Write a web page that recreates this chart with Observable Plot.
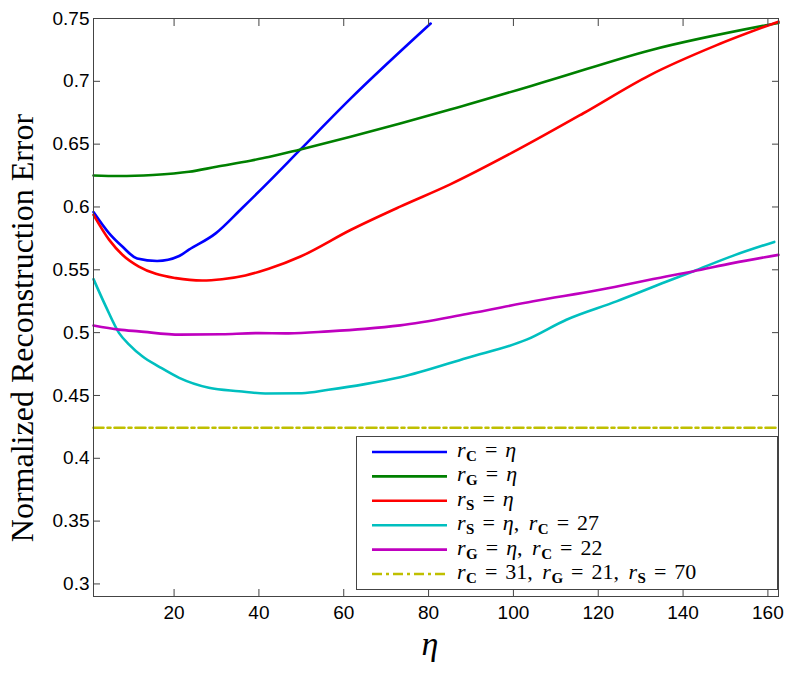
<!DOCTYPE html>
<html><head><meta charset="utf-8">
<script src="https://cdn.jsdelivr.net/npm/d3@7"></script>
<script src="https://cdn.jsdelivr.net/npm/@observablehq/plot@0.6"></script>
<style>body{margin:0;background:#fff}#chart{width:795px;height:673px}</style>
</head><body><div id="chart"></div>
<script>
// ---- data ----
const blueEta = [1,4.7,7.8,11.3,16,21.2,23.5,29.8,36,42.3,49.8,61.6,80.5];
const blueVal = [0.596,0.579,0.5685,0.559,0.557,0.561,0.566,0.579,0.599,0.620,0.6458,0.6862,0.746];

const greenEta = [1,7,15,23.5,30,38,42.3,49.8,61.6,73.3,85.1,108.6,132.1,162.5];
const greenVal = [0.625,0.6246,0.6255,0.628,0.632,0.6368,0.6397,0.6458,0.6558,0.6664,0.6775,0.7008,0.7246,0.7465];

const redEta = [1,4.7,7.8,11.7,15.7,20.4,26.6,31.3,36.8,42.3,49.8,61.6,73.3,85.1,100.8,116.4,132.1,147.8,162.5];
const redVal = [0.5937,0.5738,0.562,0.5526,0.5468,0.5434,0.5415,0.5425,0.5455,0.5508,0.5606,0.5817,0.6003,0.618,0.6452,0.6744,0.7048,0.7286,0.7475];

const cyanEta = [1,3.9,7,9.4,12.5,16.5,21.2,28.2,35.3,41.5,50.1,56.4,65,73.3,89,103.1,112.5,124.3,136,142.3,151.7,161.5];
const cyanVal = [0.5426,0.5209,0.4998,0.4905,0.4812,0.4728,0.464,0.4561,0.4534,0.4516,0.4518,0.4545,0.459,0.4645,0.4799,0.4944,0.5103,0.5249,0.5405,0.5487,0.5611,0.5722];

const magentaEta = [1,7,11.7,21.5,31.3,39.2,47,56.4,65,73.3,89,104.7,120.4,136,142.3,151.7,162.5];
const magentaVal = [0.5056,0.5024,0.501,0.4984,0.4987,0.4996,0.4994,0.501,0.503,0.5058,0.5148,0.5249,0.5341,0.5447,0.5487,0.5553,0.5619];

const yellowEta = [1,162.5];
const yellowVal = [0.4243,0.4243];

const xTicks = [20,40,60,80,100,120,140,160];
const xTickLabels = ["20","40","60","80","100","120","140","160"];
const yTicks = [0.3,0.35,0.4,0.45,0.5,0.55,0.6,0.65,0.7,0.75];
const yTickLabels = ["0.3","0.35","0.4","0.45","0.5","0.55","0.6","0.65","0.7","0.75"];

const xTitle = "η";
const yTitle = "Normalized Reconstruction Error";

// legend labels as parts: [text, style]  (i = italic, s = bold subscript, n = normal, e = equals, c = comma)
const legendLabels = [
  [["r","i"],["C","s"],["=","e"],["η","i"]],
  [["r","i"],["G","s"],["=","e"],["η","i"]],
  [["r","i"],["S","s"],["=","e"],["η","i"]],
  [["r","i"],["S","s"],["=","e"],["η","i"],[", ","c"],["r","i"],["C","s"],["=","e"],["27","n"]],
  [["r","i"],["G","s"],["=","e"],["η","i"],[", ","c"],["r","i"],["C","s"],["=","e"],["22","n"]],
  [["r","i"],["C","s"],["=","e"],["31","n"],[", ","c"],["r","i"],["G","s"],["=","e"],["21","n"],[", ","c"],["r","i"],["S","s"],["=","e"],["70","n"]]
];

const series = [
  {eta: blueEta, val: blueVal, color: "#0000ff", dash: null},
  {eta: greenEta, val: greenVal, color: "#008000", dash: null},
  {eta: redEta, val: redVal, color: "#ff0000", dash: null},
  {eta: cyanEta, val: cyanVal, color: "#00bfbf", dash: null},
  {eta: magentaEta, val: magentaVal, color: "#bf00bf", dash: null},
  {eta: yellowEta, val: yellowVal, color: "#bfbf00", dash: "10,4,3,4"}
];

const toRows = s => s.eta.map((e, i) => ({eta: e, val: s.val[i]}));
const axisColor = "#444";

const plot = Plot.plot({
  width: 795, height: 673,
  marginLeft: 93, marginRight: 17, marginTop: 18, marginBottom: 77,
  x: {domain: [1, 162.5]},
  y: {domain: [0.29, 0.75]},
  style: {fontFamily: "'Liberation Sans', Arial, sans-serif", fontSize: "19px", color: "#000", background: "#fff"},
  marks: [
    ...series.map(s => Plot.line(toRows(s), {
      x: "eta", y: "val", stroke: s.color, strokeWidth: 2.6,
      strokeDasharray: s.dash, curve: s.dash ? "linear" : "monotone-x"
    })),
    Plot.frame({stroke: axisColor, strokeWidth: 1}),
    Plot.axisX({ticks: xTicks, tickFormat: d => xTickLabels[xTicks.indexOf(d)], tickSize: -7, tickPadding: 16, stroke: axisColor, fill: "#000", label: null}),
    Plot.axisX({anchor: "top", ticks: xTicks, tickFormat: () => "", tickSize: -7, stroke: axisColor, label: null}),
    Plot.axisY({ticks: yTicks, tickFormat: d => yTickLabels[yTicks.indexOf(d)], tickSize: -7, tickPadding: 11, stroke: axisColor, fill: "#000", label: null}),
    Plot.axisY({anchor: "right", ticks: yTicks, tickFormat: () => "", tickSize: -7, stroke: axisColor, label: null})
  ]
});

document.getElementById("chart").appendChild(plot);
const svg = d3.select(plot);
const serif = "'Liberation Serif', 'Times New Roman', serif";

// axis titles
svg.append("text").attr("transform", "translate(33,328) rotate(-90)")
  .attr("text-anchor", "middle").attr("font-family", serif).attr("font-size", 32)
  .attr("fill", "#000").text(yTitle);
svg.append("text").attr("x", 430).attr("y", 655)
  .attr("text-anchor", "middle").attr("font-family", serif).attr("font-size", 34)
  .attr("font-style", "italic").attr("fill", "#000").text(xTitle);

// legend
const lg = svg.append("g").attr("text-anchor", "start");
lg.append("rect").attr("x", 356.5).attr("y", 436.5).attr("width", 421).attr("height", 153)
  .attr("fill", "#fff").attr("stroke", axisColor).attr("stroke-width", 1);
const rowY0 = 452, rowDy = 24.4;
legendLabels.forEach((parts, k) => {
  const y = rowY0 + k * rowDy;
  const s = series[k];
  lg.append("line").attr("x1", 372).attr("x2", 447).attr("y1", y).attr("y2", y)
    .attr("stroke", s.color).attr("stroke-width", 2.6)
    .attr("stroke-dasharray", s.dash);
  const t = lg.append("text").attr("x", 457).attr("y", y + 5).attr("text-anchor", "start")
    .attr("font-family", serif).attr("font-size", 22).attr("fill", "#000");
  let sub = false, afterEq = false, afterComma = false;
  parts.forEach(([txt, st]) => {
    const ts = t.append("tspan").text(txt);
    let dx = 0;
    if (afterEq) { dx += 8; afterEq = false; }
    if (afterComma) { dx += 4; afterComma = false; }
    if (st === "s") {
      ts.attr("font-weight", "bold").attr("font-size", 15).attr("dy", 4);
      dx += 0.5;
      sub = true;
    } else {
      if (sub) { ts.attr("dy", -4); sub = false; }
      if (st === "i") ts.attr("font-style", "italic");
      if (st === "e") { dx += 8; afterEq = true; }
      if (st === "c") afterComma = true;
    }
    if (dx) ts.attr("dx", dx);
  });
});
</script>
</body></html>
